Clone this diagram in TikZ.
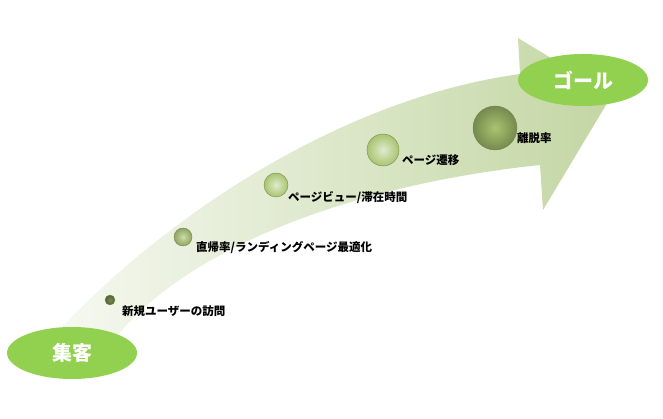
\documentclass[tikz,border=0pt]{standalone}
\usepackage{fontspec}
\newfontfamily\jp{Noto Sans CJK JP}
\usetikzlibrary{shapes.geometric}
\definecolor{lgreen}{HTML}{92D050}
\definecolor{band}{HTML}{C3D6A3}
\definecolor{ballg}{HTML}{A8C470}
\tikzset{
 goal/.style={ellipse,fill=lgreen,text=white,font=\jp\bfseries\fontsize{20}{20}\selectfont,minimum width=130pt,minimum height=52pt,inner sep=0pt},
 ball/.style={circle,draw=ballg!70!black,line width=0.4pt,inner color=ballg!35!white,outer color=ballg,inner sep=0pt},
 lbl/.style={anchor=west,font=\jp\bfseries\fontsize{11.5}{11.5}\selectfont,inner sep=0pt}
}
\begin{document}
\begin{tikzpicture}[x=1pt,y=1pt]
\useasboundingbox (0,0) rectangle (663,419);
\path[left color=band!15,right color=band,shading angle=90]
 (55,84) .. controls (150,189) and (330,319) .. (520,345)
 -- (518,381) -- (612,324) -- (543,209) -- (540,254)
 .. controls (350,234) and (180,169) .. (110,74) -- cycle;
\node[goal] (s) at (72,66) {集客};
\node[goal] (g) at (583,339) {ゴール};
\node[ball,minimum size=10pt,inner color=ballg!70!black,outer color=ballg!50!black] (b1) at (110,119) {};
\node[ball,minimum size=18pt,inner color=ballg!60!white,outer color=ballg!85!black] (b2) at (183,182) {};
\node[ball,minimum size=24pt] (b3) at (276,234) {};
\node[ball,minimum size=32pt] (b4) at (383,269) {};
\node[ball,minimum size=44pt,inner color=ballg,outer color=ballg!70!black] (b5) at (495,291) {};
\node[lbl] (l1) at (122,108) {新規ユーザーの訪問};
\node[lbl] (l2) at (196,171) {直帰率/ランディングページ最適化};
\node[lbl] (l3) at (288,221) {ページビュー/滞在時間};
\node[lbl] (l4) at (402,259) {ページ遷移};
\node[lbl] (l5) at (517,281) {離脱率};
\end{tikzpicture}
\end{document}
